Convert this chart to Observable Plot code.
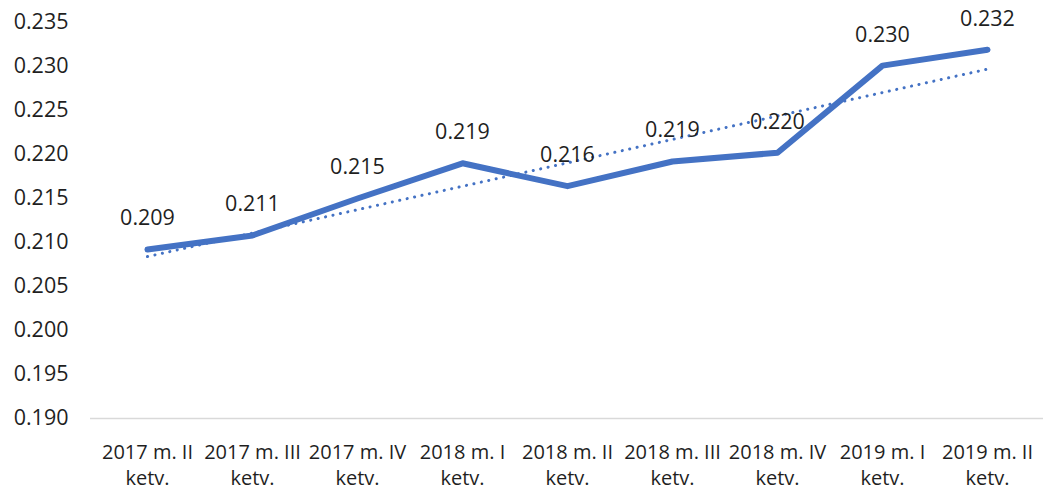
<!DOCTYPE html>
<html>
<head>
<meta charset="utf-8">
<script src="https://cdn.jsdelivr.net/npm/d3@7"></script>
<script src="https://cdn.jsdelivr.net/npm/@observablehq/plot@0.6"></script>
<style>
  html, body { margin: 0; padding: 0; background: #fff; }
  #chart svg { display: block; }
</style>
</head>
<body>
<div id="chart"></div>
<script>
const categories = [
  "2017 m. II\nketv.", "2017 m. III\nketv.", "2017 m. IV\nketv.",
  "2018 m. I\nketv.", "2018 m. II\nketv.", "2018 m. III\nketv.",
  "2018 m. IV\nketv.", "2019 m. I\nketv.", "2019 m. II\nketv."
];
const values = [0.2092, 0.2108, 0.2150, 0.2190, 0.2164, 0.2192, 0.2202, 0.2301, 0.2319];
const labels = ["0.209", "0.211", "0.215", "0.219", "0.216", "0.219", "0.220", "0.230", "0.232"];
const trendCategories = [categories[0], categories[categories.length - 1]];
const trendValues = [0.2084, 0.2297];
const yTicks = [0.190, 0.195, 0.200, 0.205, 0.210, 0.215, 0.220, 0.225, 0.230, 0.235];

const data = categories.map((c, i) => ({c, v: values[i], label: labels[i]}));
const trend = trendCategories.map((c, i) => ({c, v: trendValues[i]}));
const blue = "#4472C4";

const chart = Plot.plot({
  width: 1049,
  height: 491,
  marginLeft: 90,
  marginRight: 6,
  marginTop: 22,
  marginBottom: 73,
  style: {fontFamily: "'Open Sans', sans-serif", fontSize: "21px", color: "#1f1f1f", background: "#fff"},
  x: {type: "point", domain: categories, padding: 0.5, label: null},
  y: {domain: [0.190, 0.235], label: null},
  marks: [
    Plot.ruleY([0.190], {stroke: "#d9d9d9", strokeWidth: 1.5}),
    Plot.axisY({ticks: yTicks, tickFormat: d3.format(".3f"), tickSize: 0, tickPadding: 22, fontSize: 21.5, fill: "#1f1f1f", label: null}),
    Plot.axisX({tickSize: 0, tickPadding: 22, fontSize: 20, lineHeight: 1.3, fill: "#1f1f1f", label: null}),
    Plot.line(trend, {x: "c", y: "v", stroke: blue, strokeWidth: 3, strokeDasharray: "0.1,7.5", strokeLinecap: "round"}),
    Plot.line(data, {x: "c", y: "v", stroke: blue, strokeWidth: 6, strokeLinejoin: "round", strokeLinecap: "round"}),
    Plot.text(data, {x: "c", y: "v", text: "label", dy: -31, fontSize: 21.5, fill: "#1f1f1f"})
  ]
});
document.getElementById("chart").append(chart);
</script>
</body>
</html>
